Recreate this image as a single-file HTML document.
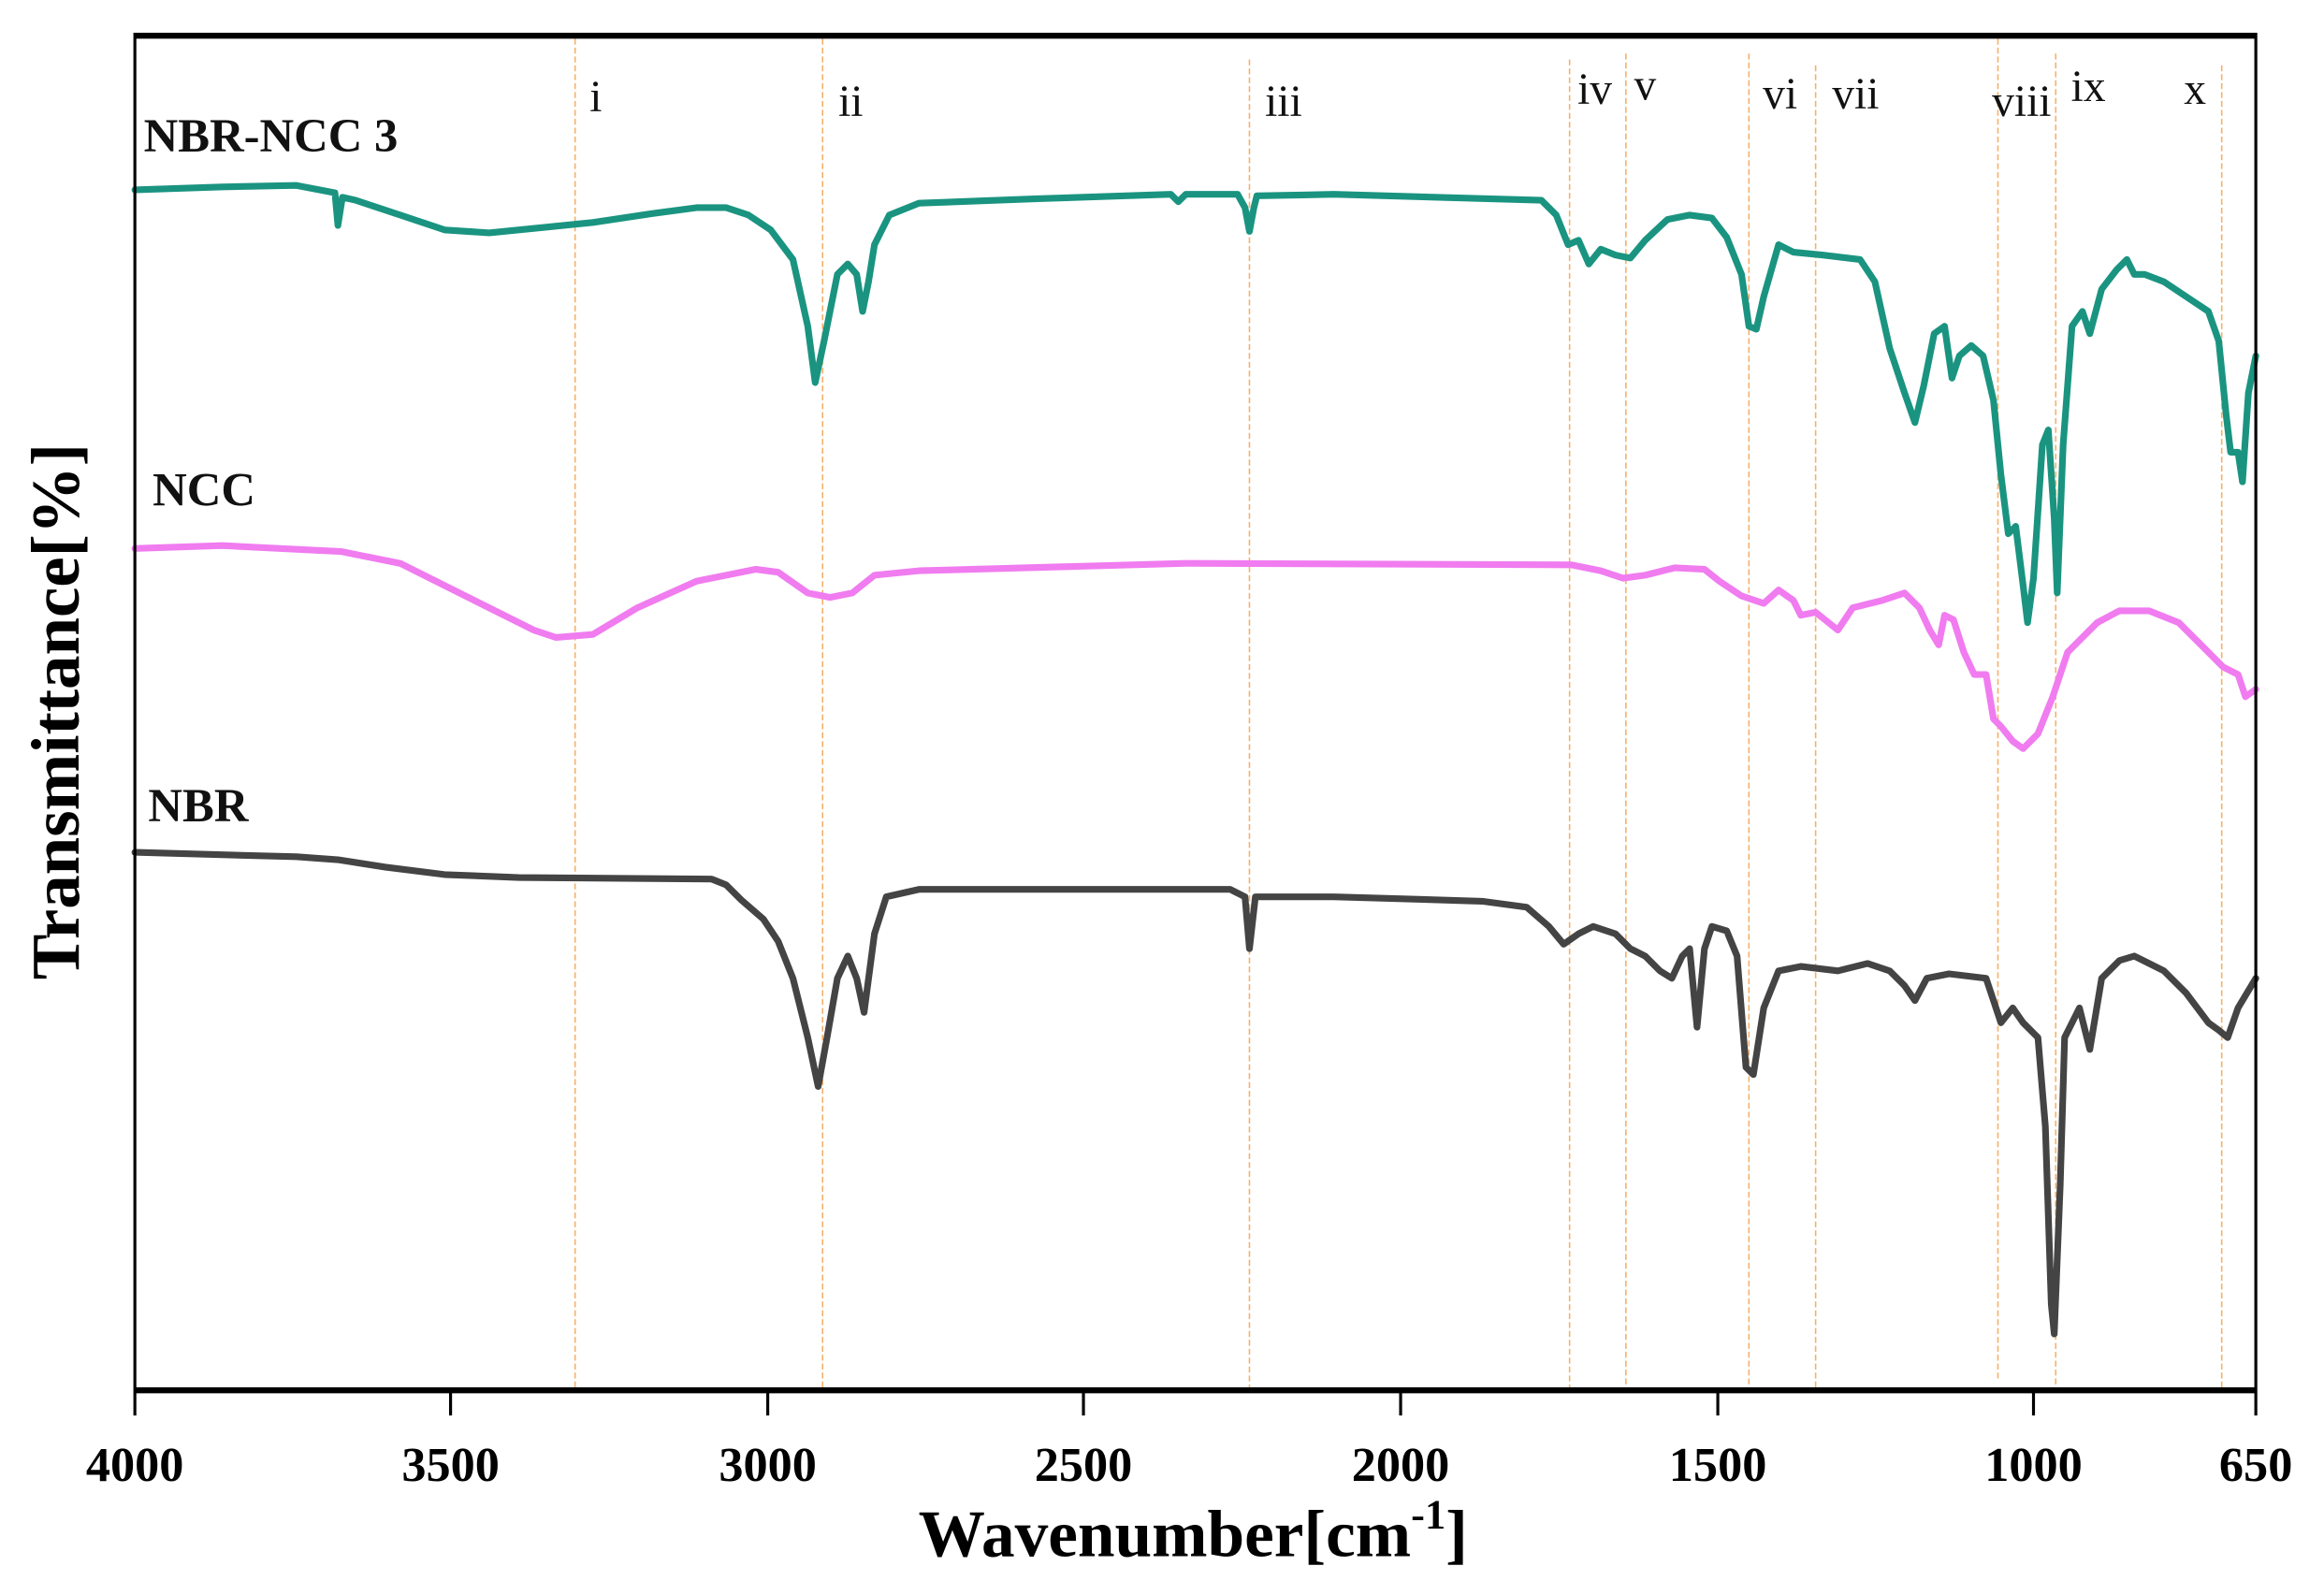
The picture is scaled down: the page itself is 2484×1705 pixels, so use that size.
<!DOCTYPE html>
<html><head><meta charset="utf-8"><style>
html,body{margin:0;padding:0;background:#fff;}
svg{display:block;}
</style></head><body>
<svg width="2484" height="1705" viewBox="0 0 1568 1076" xmlns="http://www.w3.org/2000/svg" font-family="'Liberation Serif', serif">
<rect width="1568" height="1076" fill="#fff"/>
<g stroke="#f5b06a" stroke-width="1" stroke-dasharray="4,2">
<line x1="388" y1="26" x2="388" y2="936"/>
<line x1="555" y1="26" x2="555" y2="936"/>
<line x1="843" y1="40" x2="843" y2="936"/>
<line x1="1059" y1="40" x2="1059" y2="936"/>
<line x1="1097" y1="36" x2="1097" y2="936"/>
<line x1="1180" y1="36" x2="1180" y2="936"/>
<line x1="1225" y1="44" x2="1225" y2="936"/>
<line x1="1348" y1="26" x2="1348" y2="930"/>
<line x1="1387" y1="36" x2="1387" y2="936"/>
<line x1="1499" y1="44" x2="1499" y2="936"/>
</g>
<g font-size="30" fill="#111">
<text x="402" y="75" text-anchor="middle">i</text>
<text x="574" y="78" text-anchor="middle">ii</text>
<text x="866" y="78" text-anchor="middle">iii</text>
<text x="1076" y="70" text-anchor="middle">iv</text>
<text x="1110" y="67" text-anchor="middle">v</text>
<text x="1201" y="73" text-anchor="middle">vi</text>
<text x="1252" y="73" text-anchor="middle">vii</text>
<text x="1364" y="78" text-anchor="middle">viii</text>
<text x="1409" y="68" text-anchor="middle">ix</text>
<text x="1481" y="70" text-anchor="middle">x</text>
</g>
<g fill="none" stroke-linejoin="round" stroke-linecap="round">
<polyline stroke="#1a9480" stroke-width="4.5" points="91,128 150,126 200,125 226,130 228,152 231,133 240,135 270,145 300,155 330,157 360,154 400,150 440,144 470,140 490,140 505,145 520,155 535,175 545,220 550,258 556,230 565,185 572,178 578,185 582,210 586,190 590,165 600,145 620,137 700,134 790,131 795,136 800,131 835,131 840,140 843,156 846,140 848,132 900,131 1040,135 1050,145 1058,165 1065,162 1072,178 1080,168 1090,172 1100,174 1110,162 1125,148 1140,145 1155,147 1165,160 1175,185 1180,220 1185,222 1190,200 1200,165 1210,170 1230,172 1255,175 1265,190 1275,235 1285,265 1292,285 1298,260 1305,225 1312,220 1317,255 1322,240 1330,233 1338,240 1345,270 1350,320 1355,360 1360,355 1365,395 1368,420 1372,390 1378,300 1382,290 1386,350 1388,400 1392,300 1398,220 1405,210 1410,225 1418,195 1428,182 1435,175 1440,185 1447,185 1460,190 1475,200 1490,210 1497,230 1502,280 1505,305 1510,305 1513,325 1517,265 1522,240"/>
<polyline stroke="#f07cf0" stroke-width="4.5" points="91,370 150,368 230,372 270,380 320,405 360,425 375,430 400,428 430,410 470,392 510,384 525,386 545,400 560,403 575,400 590,388 620,385 800,380 1060,381 1080,385 1095,390 1110,388 1130,383 1150,384 1160,392 1175,402 1190,407 1200,398 1210,405 1215,415 1225,413 1240,425 1250,410 1270,405 1285,400 1295,410 1302,425 1308,435 1312,415 1318,418 1325,440 1332,455 1340,455 1345,485 1350,490 1358,500 1365,505 1375,495 1385,470 1395,440 1405,430 1415,420 1430,412 1450,412 1470,420 1485,435 1500,450 1510,455 1515,470 1522,465"/>
<polyline stroke="#444" stroke-width="4.5" points="91,575 200,578 228,580 260,585 300,590 350,592 480,593 490,597 500,607 515,620 525,635 535,660 545,700 552,733 558,700 565,660 572,645 578,660 583,683 590,630 598,605 620,600 830,600 840,605 843,640 847,605 900,605 1000,608 1030,612 1045,625 1055,637 1065,630 1075,625 1090,630 1100,640 1110,645 1120,655 1128,660 1135,645 1140,640 1145,693 1150,640 1155,625 1165,628 1172,645 1178,720 1183,725 1190,680 1200,655 1215,652 1240,655 1260,650 1275,655 1285,665 1292,675 1300,660 1315,657 1340,660 1350,690 1358,680 1365,690 1375,700 1380,760 1384,880 1386,900 1390,800 1393,700 1398,690 1403,680 1410,708 1418,660 1430,648 1440,645 1460,655 1475,670 1490,690 1497,695 1503,700 1510,680 1522,660"/>
</g>
<g font-weight="bold" font-size="32" fill="#111">
<text x="97" y="102">NBR-NCC 3</text>
<text x="103" y="341">NCC</text>
<text x="100" y="554">NBR</text>
</g>
<g stroke="#000">
<line x1="91" y1="24" x2="1522" y2="24" stroke-width="4"/>
<line x1="91" y1="938" x2="1522" y2="938" stroke-width="4"/>
<line x1="91" y1="22" x2="91" y2="955" stroke-width="2"/>
<line x1="1522" y1="22" x2="1522" y2="955" stroke-width="2"/>
<line x1="304" y1="938" x2="304" y2="955" stroke-width="2"/>
<line x1="518" y1="938" x2="518" y2="955" stroke-width="2"/>
<line x1="731" y1="938" x2="731" y2="955" stroke-width="2"/>
<line x1="945" y1="938" x2="945" y2="955" stroke-width="2"/>
<line x1="1159" y1="938" x2="1159" y2="955" stroke-width="2"/>
<line x1="1372" y1="938" x2="1372" y2="955" stroke-width="2"/>
</g>
<g font-weight="bold" font-size="33" fill="#000" text-anchor="middle">
<text x="91" y="999">4000</text>
<text x="304" y="999">3500</text>
<text x="518" y="999">3000</text>
<text x="731" y="999">2500</text>
<text x="945" y="999">2000</text>
<text x="1159" y="999">1500</text>
<text x="1372" y="999">1000</text>
<text x="1522" y="999">650</text>
</g>
<text x="805" y="1050" text-anchor="middle" font-weight="bold" font-size="45" fill="#000">Wavenumber[cm<tspan font-size="28" dy="-19">-1</tspan><tspan dy="19">]</tspan></text>
<text transform="translate(53,480) rotate(-90)" text-anchor="middle" font-weight="bold" font-size="46" fill="#000">Transmittance[%]</text>
</svg>
</body></html>
